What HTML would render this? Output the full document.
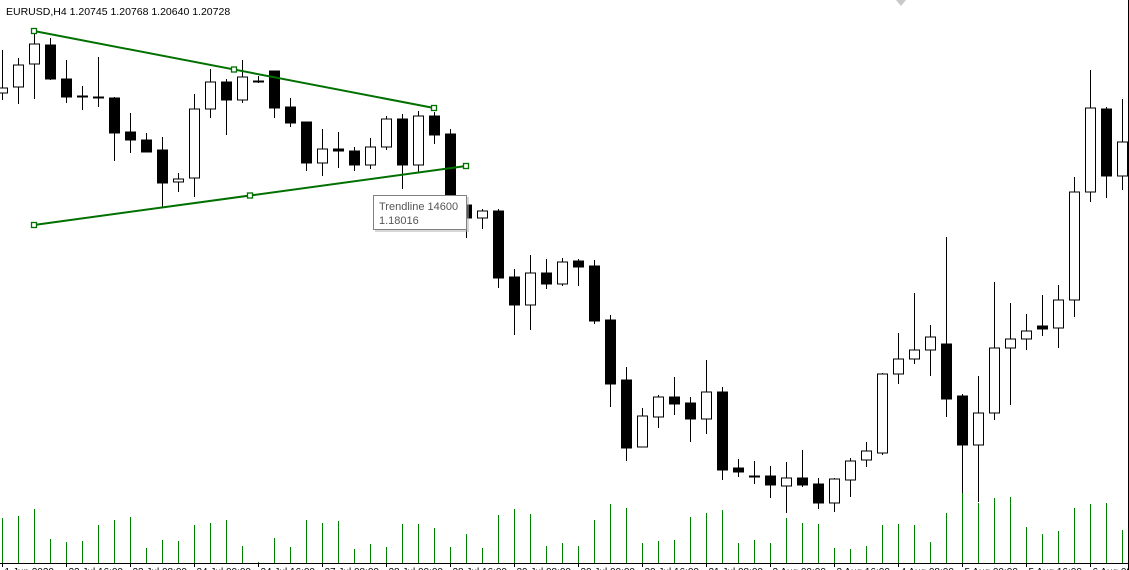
<!DOCTYPE html>
<html><head><meta charset="utf-8">
<style>
html,body{margin:0;padding:0;background:#fff;overflow:hidden;}
body{width:1129px;height:570px;position:relative;font-family:"Liberation Sans",sans-serif;}
svg{position:absolute;left:0;top:0;}
</style></head>
<body>
<svg id="chart" width="1129" height="570" viewBox="0 0 1129 570" xmlns="http://www.w3.org/2000/svg">
  <text x="6" y="15" font-family="Liberation Sans, sans-serif" font-size="10.5" fill="#000">EURUSD,H4  1.20745 1.20768 1.20640 1.20728</text>
  <polygon points="896,0 906,0 901,6" fill="#c8c8c8"/>
  <line x1="1128.5" y1="0" x2="1128.5" y2="570" stroke="#000" stroke-width="1"/>
  <line x1="0" y1="563.5" x2="1129" y2="563.5" stroke="#000" stroke-width="1"/>
  <g id="vols"></g>
  <g id="candles"></g>
  <g id="lines"></g>
  <g id="xticks"></g>
</svg>
<script>
const opens=[1.2037,1.2043,1.2066,1.2085,1.2051,1.2034,1.2033,1.2032,1.1998,1.1990,1.1980,1.1948,1.1952,1.2021,1.2048,1.2030,1.2049,1.2059,1.2023,1.2008,1.1967,1.1981,1.1979,1.1965,1.1983,1.2011,1.1965,1.2014,1.1996,1.1925,1.1912,1.1919,1.1853,1.1825,1.1857,1.1846,1.1869,1.1864,1.1810,1.1750,1.1683,1.1713,1.1733,1.1727,1.1711,1.1738,1.1662,1.1654,1.1654,1.1644,1.1652,1.1646,1.1627,1.1650,1.1670,1.1677,1.1756,1.1771,1.1780,1.1786,1.1734,1.1685,1.1717,1.1782,1.1791,1.1804,1.1802,1.1830,1.1938,1.2021,1.1954];
const highs=[1.2080,1.2072,1.2097,1.2092,1.2070,1.2044,1.2073,1.2033,1.2017,1.1997,1.1993,1.1957,1.2036,1.2061,1.2051,1.2070,1.2054,1.2059,1.2032,1.2008,1.2001,1.1998,1.1983,1.1992,1.2014,1.2016,1.2019,1.2018,1.2001,1.1930,1.1921,1.1921,1.1861,1.1875,1.1871,1.1872,1.1871,1.1870,1.1815,1.1763,1.1722,1.1735,1.1753,1.1733,1.1770,1.1743,1.1671,1.1669,1.1664,1.1668,1.1680,1.1652,1.1652,1.1672,1.1688,1.1757,1.1797,1.1837,1.1805,1.1893,1.1736,1.1754,1.1848,1.1827,1.1816,1.1835,1.1845,1.1953,1.2060,1.2023,1.2031];
const lows=[1.2030,1.2026,1.2031,1.2050,1.2027,1.2020,1.2023,1.1969,1.1977,1.1978,1.1923,1.1938,1.1933,1.2012,1.1995,1.2027,1.2047,1.2012,1.2003,1.1959,1.1954,1.1962,1.1959,1.1961,1.1980,1.1941,1.1957,1.1986,1.1930,1.1892,1.1901,1.1842,1.1795,1.1800,1.1841,1.1844,1.1844,1.1806,1.1723,1.1669,1.1683,1.1702,1.1715,1.1688,1.1696,1.1650,1.1653,1.1646,1.1632,1.1617,1.1643,1.1621,1.1618,1.1633,1.1663,1.1675,1.1746,1.1766,1.1754,1.1713,1.1637,1.1628,1.1710,1.1725,1.1780,1.1794,1.1782,1.1813,1.1928,1.1932,1.1940];
const closes=[1.2042,1.2065,1.2086,1.2051,1.2033,1.2033,1.2032,1.1997,1.1990,1.1978,1.1947,1.1951,1.2021,1.2048,1.2030,1.2053,1.2048,1.2022,1.2007,1.1967,1.1981,1.1979,1.1965,1.1983,1.2011,1.1965,1.2014,1.1995,1.1935,1.1912,1.1919,1.1852,1.1825,1.1857,1.1846,1.1868,1.1863,1.1809,1.1746,1.1682,1.1714,1.1733,1.1726,1.1711,1.1738,1.1660,1.1658,1.1654,1.1645,1.1652,1.1645,1.1627,1.1651,1.1669,1.1679,1.1756,1.1771,1.1780,1.1793,1.1731,1.1685,1.1717,1.1782,1.1791,1.1799,1.1801,1.1830,1.1938,1.2022,1.1954,1.1988];
const volumes=[9000,9400,10800,4800,4200,4400,7600,8600,9200,3000,4600,4400,7600,8000,8600,3400,200,5000,3200,8600,8000,8400,2800,3800,3200,7800,7800,7000,3200,5800,3000,9600,10800,9800,3400,4000,3400,8600,11800,11000,4000,4400,4600,9200,10000,10600,4000,4600,4000,9000,8000,7800,3000,2800,3400,7600,7800,7600,4200,10000,14000,12000,13000,13200,7200,5800,6400,11000,11800,12000,6600];
const tickLabels=["1 Jun 2020","22 Jul 16:00","23 Jul 08:00","24 Jul 00:00","24 Jul 16:00","27 Jul 08:00","28 Jul 00:00","28 Jul 16:00","29 Jul 08:00","30 Jul 00:00","30 Jul 16:00","31 Jul 08:00","3 Aug 00:00","3 Aug 16:00","4 Aug 08:00","5 Aug 00:00","5 Aug 16:00","6 Aug 08:00"];
const upperTrend=[[2,1.2099],[27,1.2022]];
const lowerTrend=[[2,1.1905],[29,1.1964]];

const NS="http://www.w3.org/2000/svg";
const xOf=i=>2+16*i;
const yOf=p=>(1.2130-p)*10000;
const baseY=563;
const vH=v=>v/200;
function mk(tag,attrs,parent){const e=document.createElementNS(NS,tag);for(const k in attrs)e.setAttribute(k,attrs[k]);parent.appendChild(e);return e;}
const gv=document.getElementById('vols'),gc=document.getElementById('candles'),gl=document.getElementById('lines'),gt=document.getElementById('xticks');
volumes.forEach((v,i)=>{
  const l=mk('line',{x1:xOf(i)+0.5,x2:xOf(i)+0.5,y1:baseY,y2:baseY-vH(v),stroke:'#008000','stroke-width':1},gv);
  
  
});
opens.forEach((o,i)=>{
  const c=closes[i],x=xOf(i);
  const g=mk('g',{},gc);
  
  
  const top=yOf(Math.max(o,c)),bot=yOf(Math.min(o,c));
  mk('line',{x1:x+0.5,x2:x+0.5,y1:yOf(highs[i]),y2:yOf(lows[i]),stroke:'#000','stroke-width':1},g);
  const h=Math.max(bot-top,1);
  if(c>=o){mk('rect',{x:x-4.5,y:top,width:10,height:h,fill:'#fff',stroke:'#000','stroke-width':1},g);}
  else{mk('rect',{x:x-5,y:top-0.5,width:11,height:h+1,fill:'#000'},g);}
});
function trend(pts,name){
  const x1=xOf(pts[0][0]),y1=yOf(pts[0][1]),x2=xOf(pts[1][0]),y2=yOf(pts[1][1]);
  const g=mk('g',{},gl);
  
  
  mk('line',{x1:x1,y1:y1,x2:x2,y2:y2,stroke:'#007000','stroke-width':2},g);
  const mx=(x1+x2)/2,my=(y1+y2)/2;
  [[x1,y1],[mx,my],[x2,y2]].forEach(p=>mk('rect',{x:p[0]-2.5,y:p[1]-2.5,width:5,height:5,fill:'#fff',stroke:'#007000','stroke-width':1.3},g));
}
trend(upperTrend,'upper-trendline');
trend(lowerTrend,'lower-trendline');
tickLabels.forEach((t,k)=>{
  const x=xOf(4*k)+0.5;
  const l=mk('line',{x1:x,x2:x,y1:563,y2:567,stroke:'#000','stroke-width':1},gt);
  
  
  const tx=mk('text',{x:x+2,y:575,'font-size':10,'font-family':'Liberation Sans, sans-serif',fill:'#000'},gt);
  tx.textContent=t;
  
  
});
const tip=mk('g',{},document.getElementById('chart'));


mk('rect',{x:375,y:197,width:94,height:35,fill:'#b0b0b0',opacity:0.5},tip);
mk('rect',{x:373.5,y:195.5,width:93,height:34,fill:'#fff',stroke:'#808080','stroke-width':1},tip);
const t1=mk('text',{x:379,y:210,'font-size':11,fill:'#555','font-family':'Liberation Sans, sans-serif'},tip);t1.textContent='Trendline 14600';
const t2=mk('text',{x:379,y:224,'font-size':11,fill:'#555','font-family':'Liberation Sans, sans-serif'},tip);t2.textContent='1.18016';
</script>
</body></html>
